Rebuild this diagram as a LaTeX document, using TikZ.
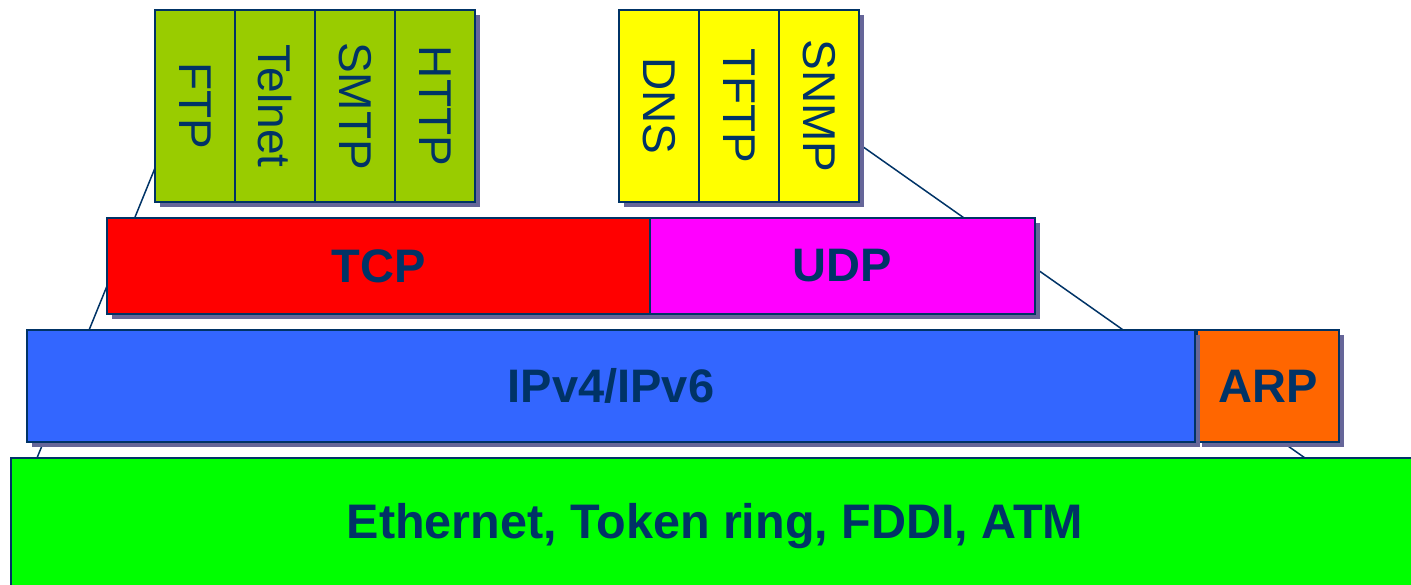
\documentclass[tikz,border=0pt]{standalone}
\usepackage{fontspec}
\setmainfont{Liberation Sans}
\usepackage{graphicx}
\usetikzlibrary{positioning,shadows}

\definecolor{navy}{HTML}{003366}
\definecolor{shadowc}{HTML}{666699}
\definecolor{appgreen}{HTML}{99CC00}
\definecolor{appyellow}{HTML}{FFFF00}
\definecolor{tcpred}{HTML}{FF0000}
\definecolor{udpmag}{HTML}{FF00FF}
\definecolor{ipblue}{HTML}{3366FF}
\definecolor{arporange}{HTML}{FF6600}
\definecolor{ethgreen}{HTML}{00FF00}

\begin{document}
\begin{tikzpicture}[x=1pt,y=-1pt,node distance=0pt,
	layer/.style={draw=navy,line width=1.5pt,text=navy,inner sep=0pt,outer sep=0pt,
		font=\fontsize{47}{50}\selectfont\bfseries,
		drop shadow={shadow xshift=5pt,shadow yshift=-5pt,fill=shadowc,opacity=1}},
	app/.style={layer,font=\fontsize{46}{50}\selectfont,minimum width=80pt,minimum height=192pt},
	edgeline/.style={draw=navy,line width=1.5pt}]
	\useasboundingbox (0,0) rectangle (1411,584);
	\clip (0,0) rectangle (1411,584);

	\coordinate (ltop) at (155,168);
	\coordinate (lbot) at (37,458);
	\coordinate (rtop) at (859,144);
	\coordinate (rbot) at (1305,458);
	\draw[edgeline] (ltop) -- (lbot);
	\draw[edgeline] (rtop) -- (rbot);

	\node[layer,fill=ethgreen,minimum width=1408pt,minimum height=136pt,
		font=\fontsize{48.5}{52}\selectfont\bfseries] (eth) at (715,526) {Ethernet, Token ring, FDDI, ATM};

	\node[layer,fill=arporange,minimum width=142pt,minimum height=112pt] (arp) at (1268,386) {ARP};
	\node[layer,fill=ipblue,minimum width=1168pt,minimum height=112pt] (ip) at (611,386) {IPv4/IPv6};

	\node[layer,fill=tcpred,minimum width=543pt,minimum height=96pt] (tcp) at (378.5,266) {TCP};
	\node[layer,fill=udpmag,minimum width=385pt,minimum height=96pt] (udp) [right=of tcp] {UDP};

	\node[app,fill=appgreen] (ftp) at (195,106) {\rotatebox{-90}{FTP}};
	\node[app,fill=appgreen] (telnet) [right=of ftp] {\rotatebox{-90}{Telnet}};
	\node[app,fill=appgreen] (smtp) [right=of telnet] {\rotatebox{-90}{SMTP}};
	\node[app,fill=appgreen] (http) [right=of smtp] {\rotatebox{-90}{HTTP}};

	\node[app,fill=appyellow] (dns) at (659,106) {\rotatebox{-90}{DNS}};
	\node[app,fill=appyellow] (tftp) [right=of dns] {\rotatebox{-90}{TFTP}};
	\node[app,fill=appyellow] (snmp) [right=of tftp] {\rotatebox{-90}{SNMP}};
\end{tikzpicture}
\end{document}
